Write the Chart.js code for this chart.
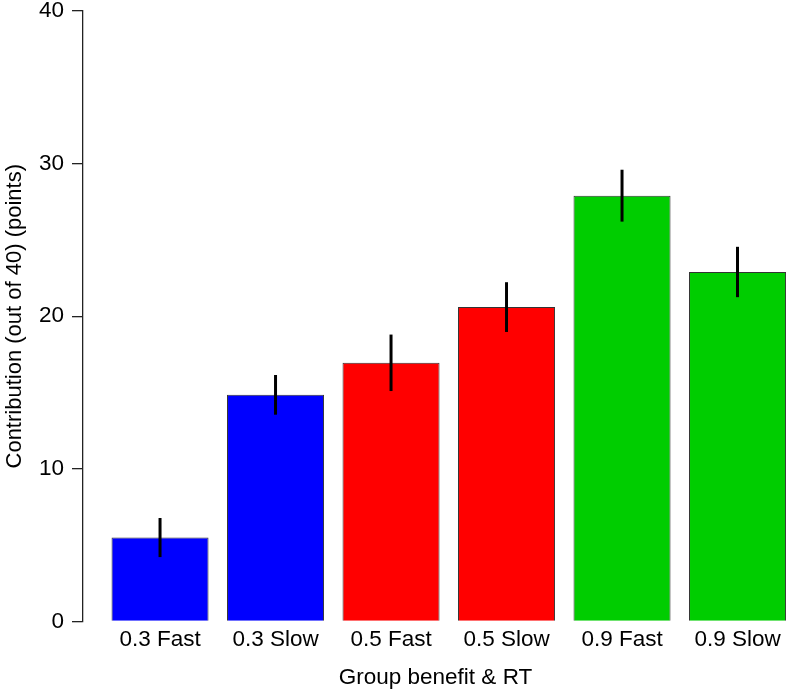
<!DOCTYPE html>
<html>
  <head>
    <title>Group benefit contribution</title>
    <script src="https://cdn.jsdelivr.net/npm/chart.js@4.4.1/dist/chart.umd.min.js"></script>
    <style>
      body {
        margin: 0;
        background: #fff;
        overflow: hidden;
      }
    </style>
  </head>
  <body>
    <canvas id="myChart" width="788" height="691"></canvas>
    <script>
      const categories = ["0.3 Fast", "0.3 Slow", "0.5 Fast", "0.5 Slow", "0.9 Fast", "0.9 Slow"];
      const contribution = [5.5, 14.85, 16.95, 20.6, 27.9, 22.9];
      const errors = [1.28, 1.3, 1.85, 1.63, 1.7, 1.65];
      const barColors = ["#0000ff", "#0000ff", "#ff0000", "#ff0000", "#00cd00", "#00cd00"];
      const yTicks = [0, 10, 20, 30, 40];

      const fontFamily = "'Liberation Sans', Arial, Helvetica, sans-serif";

      // vertical error bars, no caps
      const errorBars = {
        id: "errorBars",
        afterDatasetsDraw(chart) {
          const ctx = chart.ctx;
          const x = chart.scales.x;
          const y = chart.scales.y;
          ctx.save();
          ctx.strokeStyle = "#000";
          ctx.lineWidth = 3;
          ctx.lineCap = "butt";
          contribution.forEach((v, i) => {
            const px = x.getPixelForValue(i);
            ctx.beginPath();
            ctx.moveTo(px, y.getPixelForValue(v + errors[i]));
            ctx.lineTo(px, y.getPixelForValue(v - errors[i]));
            ctx.stroke();
          });
          ctx.restore();
        },
      };

      const chart = new Chart(document.getElementById("myChart"), {
        type: "bar",
        data: {
          datasets: [
            {
              data: contribution.map((v, i) => ({ x: i, y: v })),
              backgroundColor: barColors,
              borderColor: "#333",
              borderWidth: 1,
              barPercentage: 0.84,
              categoryPercentage: 1,
            },
          ],
        },
        plugins: [errorBars],
        options: {
          responsive: false,
          animation: false,
          layout: { padding: { top: 11, right: 0, left: 0, bottom: 0 } },
          plugins: {
            legend: { display: false },
            tooltip: { enabled: false },
          },
          scales: {
            x: {
              type: "linear",
              offset: false,
              min: -0.667,
              max: 5.437,
              afterBuildTicks: (scale) => {
                scale.ticks = categories.map((c, i) => ({ value: i }));
              },
              afterFit: (scale) => {
                scale.height = 69.5;
              },
              grid: { display: false, drawTicks: false },
              border: { display: false },
              ticks: {
                padding: 5,
                maxRotation: 0,
                autoSkip: false,
                color: "#000",
                font: { family: fontFamily, size: 22.5 },
                callback: (v) => categories[v],
              },
              title: {
                display: true,
                text: "Group benefit & RT",
                color: "#000",
                font: { family: fontFamily, size: 22.5 },
                padding: { top: 0, bottom: 0 },
              },
            },
            y: {
              min: 0,
              max: 40,
              afterBuildTicks: (scale) => {
                scale.ticks = yTicks.map((v) => ({ value: v }));
              },
              afterFit: (scale) => {
                scale.width = 83;
              },
              grid: {
                drawOnChartArea: false,
                drawTicks: true,
                tickLength: 11,
                color: "#222",
                lineWidth: 1.3,
              },
              border: { display: true, color: "#222", width: 1.3 },
              ticks: {
                padding: 8,
                color: "#000",
                font: { family: fontFamily, size: 22.5, lineHeight: 0.2 },
              },
              title: {
                display: true,
                text: "Contribution (out of 40) (points)",
                color: "#000",
                font: { family: fontFamily, size: 22 },
                padding: { top: 2, bottom: 0 },
              },
            },
          },
        },
      });
    </script>
  </body>
</html>
